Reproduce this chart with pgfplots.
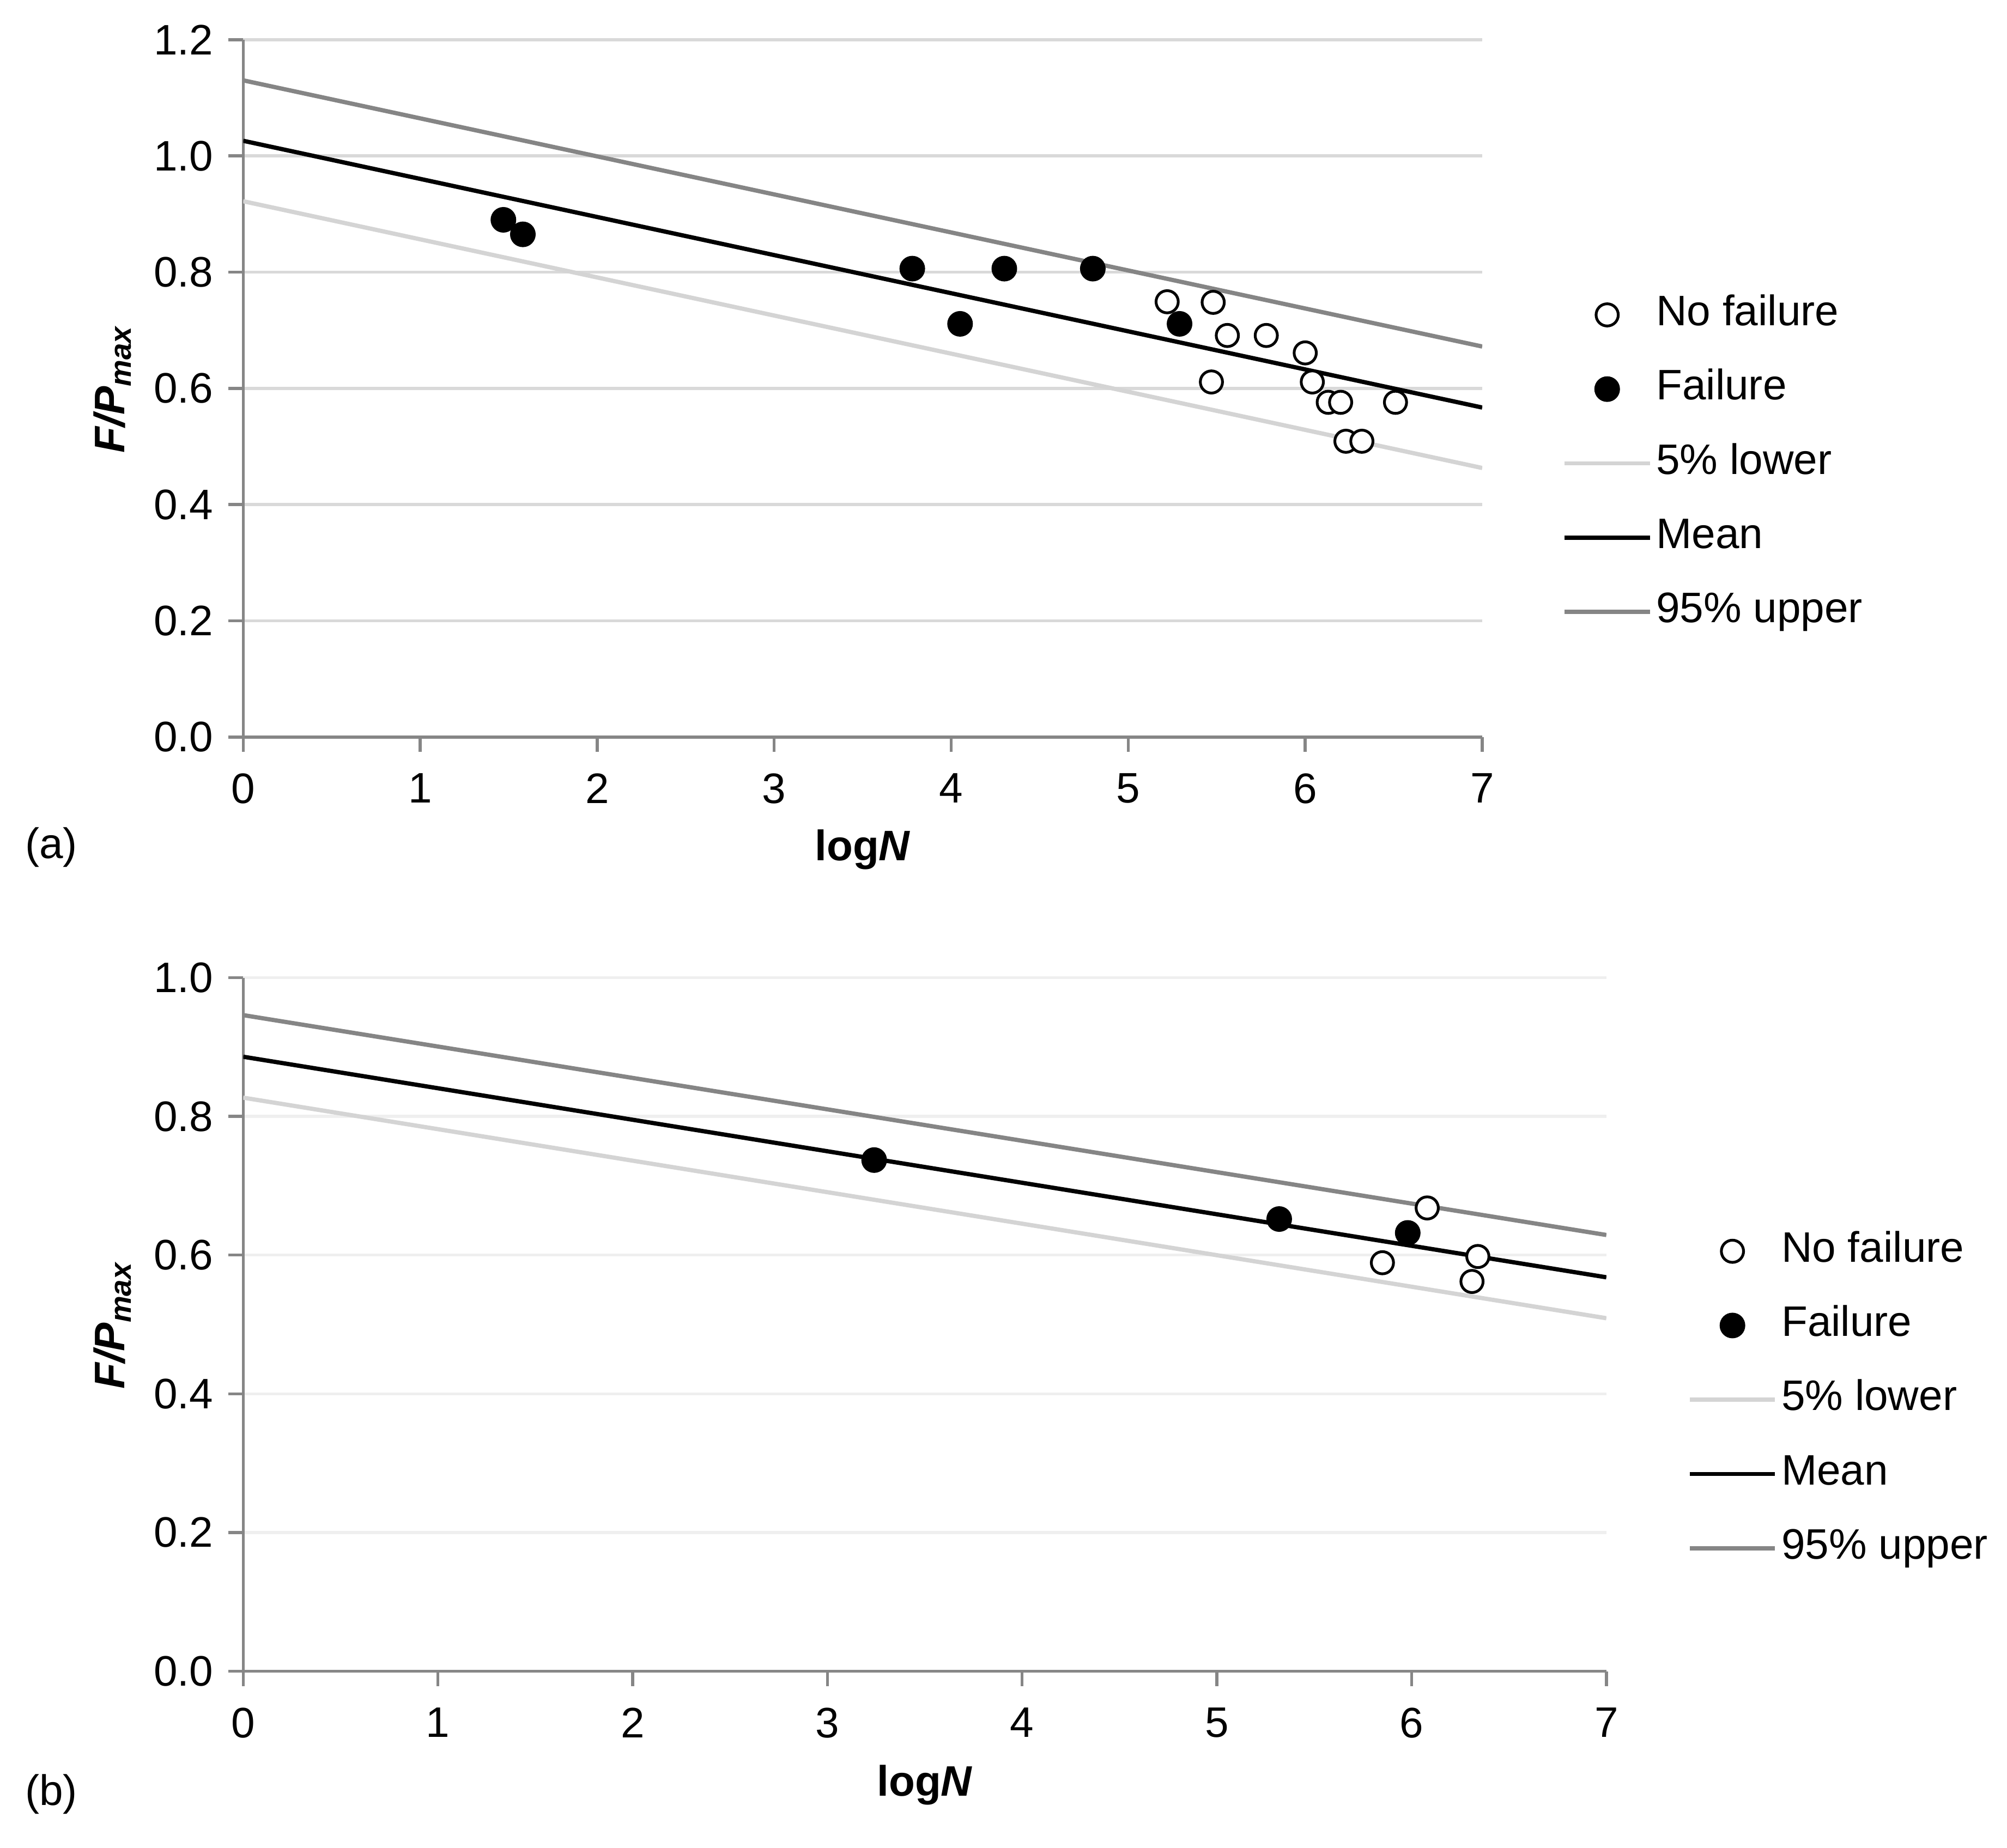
\documentclass[border=0pt]{standalone}
\usepackage{fontspec}
\setmainfont{Liberation Sans}
\usepackage{pgfplots}
\pgfplotsset{compat=1.18}

\definecolor{gridA}{HTML}{D9D9D9}
\definecolor{gridB}{HTML}{EFEFEF}
\definecolor{axisgray}{HTML}{868686}
\definecolor{upper}{HTML}{858585}
\definecolor{lower}{HTML}{D4D4D4}

\newcommand{\lblfont}{\fontsize{10}{12}\selectfont}

\pgfplotsset{
  myleg/.style={legend image code/.code={
    \draw[mark repeat=2,mark phase=2,##1] plot coordinates {(0pt,0pt) (10pt,0pt) (20pt,0pt)};}},
  fpaxis/.style={
    scale only axis,
    xmin=0, xmax=7, ymin=0,
    xtick={0,1,...,7},
    axis x line=bottom, axis y line=left,
    axis line style={-, draw=axisgray, line width=0.7pt},
    tick style={draw=axisgray, line width=0.7pt},
    tick align=outside,
    major tick length=3.5pt,
    ymajorgrids,
    /pgf/number format/assume math mode=true,
    tick label style={font=\lblfont},
    yticklabel style={/pgf/number format/.cd, fixed, fixed zerofill, precision=1},
    xticklabel style={yshift=-1.5pt},
    label style={font=\lblfont},
    xlabel={\textbf{log\textit{N}}},
    ylabel={\textbf{\textit{F/P}\textsubscript{\textit{max}}}},
    legend cell align=left,
    reverse legend,
    legend style={draw=none, fill=none, anchor=west, inner sep=0pt,
      font=\lblfont, row sep=5.4pt,
      nodes={inner sep=1pt, text height=7.5pt, text depth=2.5pt}},
  },
  meanline/.style={draw=black, line width=1pt, myleg},
  upline/.style={draw=upper, line width=1pt, myleg},
  lowline/.style={draw=lower, line width=1pt, myleg},
  failpts/.style={only marks, mark=*, mark size=2.8pt,
    mark options={fill=black, draw=black}, myleg},
  okpts/.style={only marks, mark=*, mark size=2.6pt,
    mark options={fill=white, draw=black, line width=0.65pt}, myleg},
}

\begin{document}
\begin{tikzpicture}
\path[use as bounding box] (0pt,0pt) rectangle (470.4pt,433.2pt);

% (a)
\begin{axis}[fpaxis,
    at={(57pt,260.4pt)}, anchor=south west,
    width=290.4pt, height=163.5pt,
    ymax=1.2, ytick={0,0.2,...,1.2},
    grid style={draw=gridA, line width=0.7pt},
    xlabel style={at={(axis description cs:0.5,-0.1615)}, anchor=center},
    ylabel style={at={(axis description cs:-0.1054,0.5)}, anchor=center},
    legend style={at={(1.064,0.3925)}},
  ]
\addplot[upline] coordinates {(0,1.130) (7,0.672)};
\addplot[meanline] coordinates {(0,1.026) (7,0.567)};
\addplot[lowline] coordinates {(0,0.922) (7,0.463)};
\addplot[failpts] coordinates {
  (1.47,0.890) (1.58,0.865) (3.78,0.806) (4.05,0.711)
  (4.30,0.806) (4.80,0.806) (5.29,0.711)};
\addplot[okpts] coordinates {
  (5.22,0.749) (5.48,0.748) (5.56,0.691) (5.78,0.691)
  (6.00,0.661) (5.47,0.611) (6.04,0.611) (6.13,0.576)
  (6.20,0.576) (6.51,0.576) (6.23,0.509) (6.32,0.509)};
\legend{95\% upper, Mean, 5\% lower, Failure, No failure}
\end{axis}

% (b)
\begin{axis}[fpaxis,
    at={(57pt,41.4pt)}, anchor=south west,
    width=319.5pt, height=162.6pt,
    ymax=1.0, ytick={0,0.2,...,1.0},
    grid style={draw=gridB, line width=0.7pt},
    xlabel style={at={(axis description cs:0.5,-0.164)}, anchor=center},
    ylabel style={at={(axis description cs:-0.0958,0.5)}, anchor=center},
    legend style={at={(1.059,0.3915)}},
  ]
\addplot[upline] coordinates {(0,0.946) (7,0.629)};
\addplot[meanline] coordinates {(0,0.886) (7,0.568)};
\addplot[lowline] coordinates {(0,0.827) (7,0.509)};
\addplot[failpts] coordinates {
  (3.24,0.737) (5.32,0.652) (5.98,0.632)};
\addplot[okpts] coordinates {
  (6.08,0.668) (5.85,0.589) (6.34,0.598) (6.31,0.562)};
\legend{95\% upper, Mean, 5\% lower, Failure, No failure}
\end{axis}

\node[font=\lblfont] at (12pt,234.6pt) {(a)};
\node[font=\lblfont] at (12pt,12.6pt) {(b)};
\end{tikzpicture}
\end{document}
